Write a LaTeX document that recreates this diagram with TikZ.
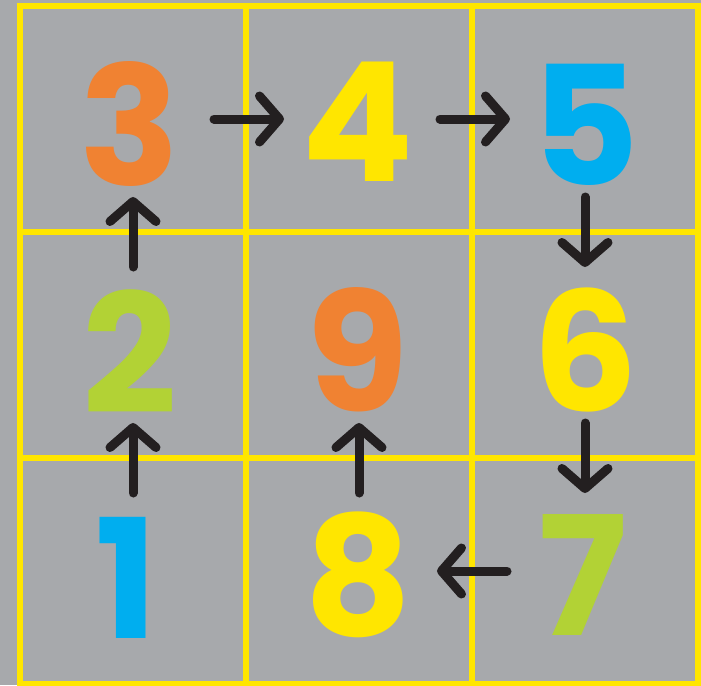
\documentclass[tikz,border=0pt]{standalone}
\usepackage{fontspec}
\setmainfont{Poppins}
\usetikzlibrary{arrows.meta}
\definecolor{bggray}{HTML}{A7A9AC}
\definecolor{gridyellow}{HTML}{FFE600}
\definecolor{numorange}{HTML}{F08232}
\definecolor{numblue}{HTML}{00AEEF}
\definecolor{numgreen}{HTML}{B2D235}
\definecolor{numyellow}{HTML}{FFE600}
\definecolor{arrowblack}{HTML}{231F20}
\tikzset{
  cell/.style={draw=gridyellow, line width=5.5pt, minimum width=226pt, minimum height=226pt, inner sep=0pt, outer sep=0pt},
  digit/.style={font=\fontsize{166}{166}\selectfont\bfseries, inner sep=0pt},
  flow/.style={draw=arrowblack, line width=9pt, line cap=round, line join=round,
    -{Straight Barb[length=20pt, width=46pt, round]}, shorten <=78pt, shorten >=78pt},
}
\begin{document}
\begin{tikzpicture}[x=1pt,y=-1pt]
\fill[bggray] (0,0) rectangle (701,685);
\useasboundingbox (0,0) rectangle (701,685);
% cells
\node[cell] (c3) at (133,119) {};
\node[cell] (c4) at (359,119) {};
\node[cell] (c5) at (585,119) {};
\node[cell] (c2) at (133,345) {};
\node[cell] (c9) at (359,345) {};
\node[cell] (c6) at (585,345) {};
\node[cell] (c1) at (133,571) {};
\node[cell] (c8) at (359,571) {};
\node[cell] (c7) at (585,571) {};
% digits
\node[digit, text=numorange] (d3) at (130,124) {3};
\node[digit, text=numyellow] (d4) at (358,122) {4};
\node[digit, text=numblue] (d5) at (585,125) {5};
\node[digit, text=numgreen] (d2) at (130,352) {2};
\node[digit, text=numorange] (d9) at (358,350) {9};
\node[digit, text=numyellow] (d6) at (585,350) {6};
\node[digit, text=numblue] (d1) at (127,578) {1};
\node[digit, text=numyellow] (d8) at (358,575) {8};
\node[digit, text=numgreen] (d7) at (583,575) {7};
% arrows
\draw[flow] (c1.center) -- (c2.center);
\draw[flow] (c2.center) -- (c3.center);
\draw[flow] ([xshift=3pt]c3.center) -- ([xshift=3pt]c4.center);
\draw[flow] ([xshift=3pt]c4.center) -- ([xshift=3pt]c5.center);
\draw[flow] (c5.center) -- (c6.center);
\draw[flow] (c6.center) -- (c7.center);
\draw[flow] (c7.center) -- (c8.center);
\draw[flow] (c8.center) -- (c9.center);
\end{tikzpicture}
\end{document}
